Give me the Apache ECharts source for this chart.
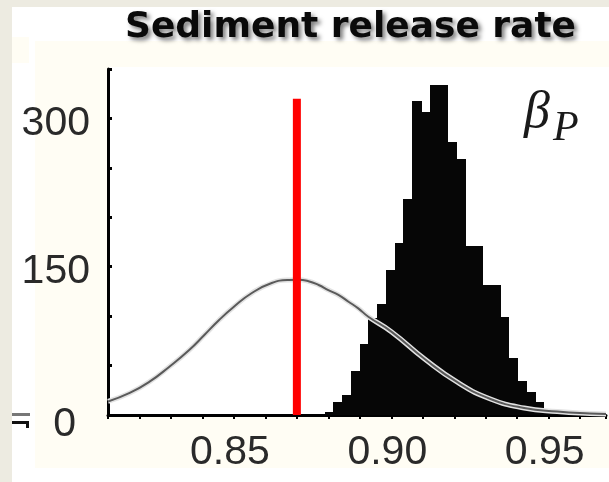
<!DOCTYPE html>
<html>
<head>
<meta charset="utf-8">
<script src="https://cdn.jsdelivr.net/npm/echarts@6/dist/echarts.min.js"></script>
<style>
html,body{margin:0;padding:0;background:#EDEBE1;}
#chart{width:609px;height:482px;}
</style>
</head>
<body>
<div id="chart"></div>
<script>
// ---- data ----
const titleText = 'Sediment release rate';
const xTickLabels = ['0.85', '0.90', '0.95'];
const yTickLabels = [0, 150, 300];
const xMin = 0.81, xMax = 0.9682, xInterval = 0.01;
const yMin = 0, yMax = 350, yInterval = 50;

// posterior histogram
const histStart = 0.8788;
const histBinWidth = 0.00278;
const histCounts = [3, 13, 20, 45, 72, 98, 112, 147, 174, 218, 318, 307, 334, 334,
  276, 259, 171, 171, 132, 132, 99, 58, 34, 23, 13, 4, 2];

// prior density curve
const priorX = [0.8100, 0.8169, 0.8232, 0.8295, 0.8358, 0.8406, 0.8453, 0.8500, 0.8557,
  0.8620, 0.8674, 0.8705, 0.8737, 0.8769, 0.8800, 0.8832, 0.8864, 0.8895, 0.8927,
  0.9000, 0.9106, 0.9211, 0.9315, 0.9422, 0.9527, 0.9631, 0.9682];
const priorY = [13.7, 22.3, 33.7, 48.9, 65.7, 80.9, 96.1, 109.5, 123.4,
  133.5, 136.6, 136.8, 135.3, 131.5, 126.4, 121.4, 114.6, 107.9, 99.4,
  84.3, 56.6, 32.9, 16.2, 7.1, 3.5, 1.5, 1.0];

// reference (true) value
const refValue = 0.87;
const refTop = 320;

// ---- build ----
const histData = histCounts.map((c, i) => [histStart + i * histBinWidth, histStart + (i + 1) * histBinWidth, c]);
const priorData = priorX.map((x, i) => [x, priorY[i]]);

const chart = echarts.init(document.getElementById('chart'), null, {renderer: 'canvas'});
chart.setOption({
  animation: false,
  backgroundColor: '#EDEBE1',
  title: {
    text: titleText,
    left: 125, top: 10, padding: 0,
    textStyle: {
      fontFamily: 'DejaVu Sans', fontWeight: 'bold', fontSize: 36, color: '#0a0a0a',
      textShadowColor: 'rgba(0,0,0,0.5)', textShadowBlur: 4,
      textShadowOffsetX: 3, textShadowOffsetY: 3
    }
  },
  graphic: [
    {type: 'rect', z: -100, silent: true, shape: {x: 12, y: 7, width: 597, height: 475}, style: {fill: '#FFFFFF'}},
    {type: 'rect', z: -99, silent: true, shape: {x: 35, y: 41, width: 574, height: 427}, style: {fill: '#FFFDF4'}},
    {type: 'rect', z: -99, silent: true, shape: {x: 12, y: 37, width: 17, height: 26}, style: {fill: '#FFFDF4'}},
    {type: 'rect', z: -98, silent: true, shape: {x: 109, y: 67, width: 500, height: 348}, style: {fill: '#FFFFFF'}},
    {type: 'rect', z: 10, silent: true, shape: {x: 12, y: 413, width: 18, height: 3}, style: {fill: '#777'}},
    {type: 'rect', z: 10, silent: true, shape: {x: 12, y: 421, width: 17, height: 3}, style: {fill: '#111'}},
    {type: 'rect', z: 10, silent: true, shape: {x: 26, y: 421, width: 3, height: 7}, style: {fill: '#111'}},
    {type: 'text', z: 20, silent: true, x: 524, y: 113,
      style: {text: 'β', font: 'italic 52px "Liberation Serif"', fill: '#1a1a1a', textVerticalAlign: 'middle'}},
    {type: 'text', z: 20, silent: true, x: 553, y: 129,
      style: {text: 'P', font: 'italic 42px "Liberation Serif"', fill: '#1a1a1a', textVerticalAlign: 'middle'}}
  ],
  grid: {left: 108, top: 69, right: 0, bottom: 67},
  xAxis: {
    type: 'value', min: xMin, max: xMax, interval: xInterval,
    splitLine: {show: false},
    axisLine: {onZero: false, lineStyle: {color: '#000', width: 3}},
    axisTick: {show: true, inside: false, length: 4, lineStyle: {color: '#000', width: 2}},
    axisLabel: {
      margin: 17, padding: [0, 8, 0, 0],
      fontFamily: 'Liberation Sans', fontSize: 41, color: '#2a2a2a',
      showMinLabel: true, showMaxLabel: true,
      formatter: v => { const s = v.toFixed(2); return xTickLabels.includes(s) ? s : ''; }
    }
  },
  yAxis: {
    type: 'value', min: yMin, max: yMax, interval: yInterval,
    splitLine: {show: false},
    axisLine: {show: true, lineStyle: {color: '#000', width: 3}},
    axisTick: {show: true, inside: true, length: 4, lineStyle: {color: '#000', width: 3}},
    axisLabel: {
      margin: 18, padding: [10, 0, 0, 0],
      fontFamily: 'Liberation Sans', fontSize: 41, color: '#2a2a2a',
      formatter: v => {
        if (!yTickLabels.includes(Math.round(v))) return '';
        return v === 0 ? '{z|0}' : String(v);
      },
      rich: {z: {fontFamily: 'Liberation Sans', fontSize: 41, color: '#2a2a2a', padding: [10, 14, 0, 0]}}
    }
  },
  series: [
    {
      type: 'custom', name: 'posterior', z: 2,
      renderItem: (params, api) => {
        const p0 = api.coord([api.value(0), api.value(2)]);
        const p1 = api.coord([api.value(1), 0]);
        const x0 = Math.round(p0[0]), x1 = Math.round(p1[0]);
        const y0 = Math.round(p0[1]), y1 = Math.round(p1[1]);
        return {type: 'rect', shape: {x: x0, y: y0, width: x1 - x0 + 1, height: y1 - y0},
          style: {fill: '#060606', stroke: null}};
      },
      encode: {x: [0, 1], y: 2},
      data: histData
    },
    {
      type: 'line', name: 'priorHalo', z: 3, smooth: true, symbol: 'none', data: priorData,
      lineStyle: {color: '#e2e2e2', width: 5}
    },
    {
      type: 'line', name: 'prior', z: 4, smooth: true, symbol: 'none', data: priorData,
      lineStyle: {color: '#5a5a5a', width: 2}
    },
    {
      type: 'line', name: 'true', z: 5, symbol: 'none',
      data: [[refValue, 0], [refValue, refTop]],
      lineStyle: {color: '#FF0000', width: 8, cap: 'butt'}
    }
  ]
});
</script>
</body>
</html>
